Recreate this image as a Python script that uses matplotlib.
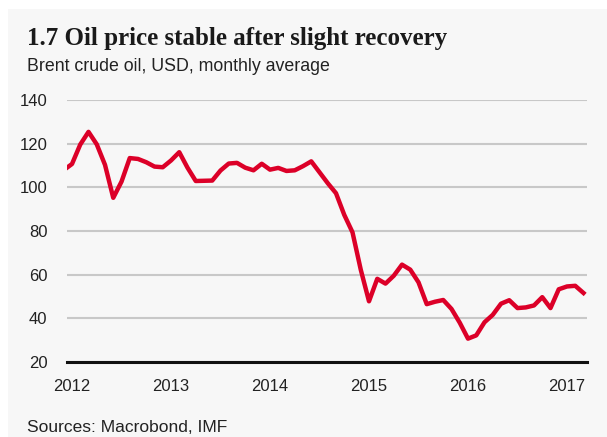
import matplotlib
matplotlib.use("Agg")
import matplotlib.pyplot as plt
from matplotlib.patches import Rectangle

# Brent crude oil, USD, monthly average (Dec 2011 - Mar 2017)
start_year, start_month = 2011, 12
brent = [107.9,
         110.7, 119.6, 125.4, 119.7, 110.3, 95.2, 102.6, 113.4, 113.0, 111.5, 109.5, 109.2,
         112.3, 116.1, 109.0, 102.9, 103.0, 103.1, 107.7, 110.9, 111.2, 109.0, 107.8, 110.8,
         108.1, 108.9, 107.5, 107.8, 109.7, 111.9, 106.9, 101.9, 97.3, 87.4, 79.4, 62.3,
         47.8, 58.1, 55.9, 59.5, 64.6, 62.3, 56.5, 46.5, 47.6, 48.4, 44.3, 38.0,
         30.7, 32.2, 38.2, 41.6, 46.7, 48.3, 44.7, 45.0, 45.9, 49.7, 44.7, 53.3,
         54.6, 54.9, 51.6]
years = [2012, 2013, 2014, 2015, 2016, 2017]
yticks = [20, 40, 60, 80, 100, 120, 140]

dates = [start_year + (start_month - 1 + i) / 12 for i in range(len(brent))]

sans = "Liberation Sans"

fig = plt.figure(figsize=(6.07, 4.37), dpi=100)
fig.patch.set_facecolor("white")
fig.patches.append(Rectangle((8 / 607, 0), 1, 1 - 9 / 437, transform=fig.transFigure,
                             facecolor="#f7f7f7", edgecolor="none", zorder=-5))

ax = fig.add_axes([67 / 607, 1 - 362 / 437, 520 / 607, 262 / 437])
ax.patch.set_alpha(0)

ax.plot(dates, brent, color="#dc0028", lw=3.2, solid_joinstyle="round", zorder=3)

ax.set_xlim(2012 - 5 / 99, 2017 + 20 / 99)
ax.set_ylim(20, 140)
ax.set_yticks(yticks)
ax.set_xticks(years)
ax.grid(axis="y", color="#c8c8c8", lw=1.5)
ax.set_axisbelow(True)
for s in ["top", "right", "left"]:
    ax.spines[s].set_visible(False)
ax.spines["bottom"].set_linewidth(2.2)
ax.spines["bottom"].set_color("#111111")
ax.spines["bottom"].set_zorder(4)
ax.tick_params(length=0, labelsize=12, colors="#222222")
ax.tick_params(axis="y", pad=14)
ax.tick_params(axis="x", pad=12)
for lab in ax.get_xticklabels() + ax.get_yticklabels():
    lab.set_family(sans)

fig.text(27 / 607, 1 - 45 / 437, "1.7 Oil price stable after slight recovery",
         family="Liberation Serif", fontweight="bold", fontsize=18, color="#1a1a1a",
         va="baseline")
fig.text(27 / 607, 1 - 71 / 437, "Brent crude oil, USD, monthly average",
         family=sans, fontsize=12.8, color="#222222", va="baseline")
fig.text(27 / 607, 1 - 432 / 437, "Sources: Macrobond, IMF",
         family=sans, fontsize=12.5, color="#222222", va="baseline")

fig.savefig("out.png", dpi=100, facecolor=fig.get_facecolor())
